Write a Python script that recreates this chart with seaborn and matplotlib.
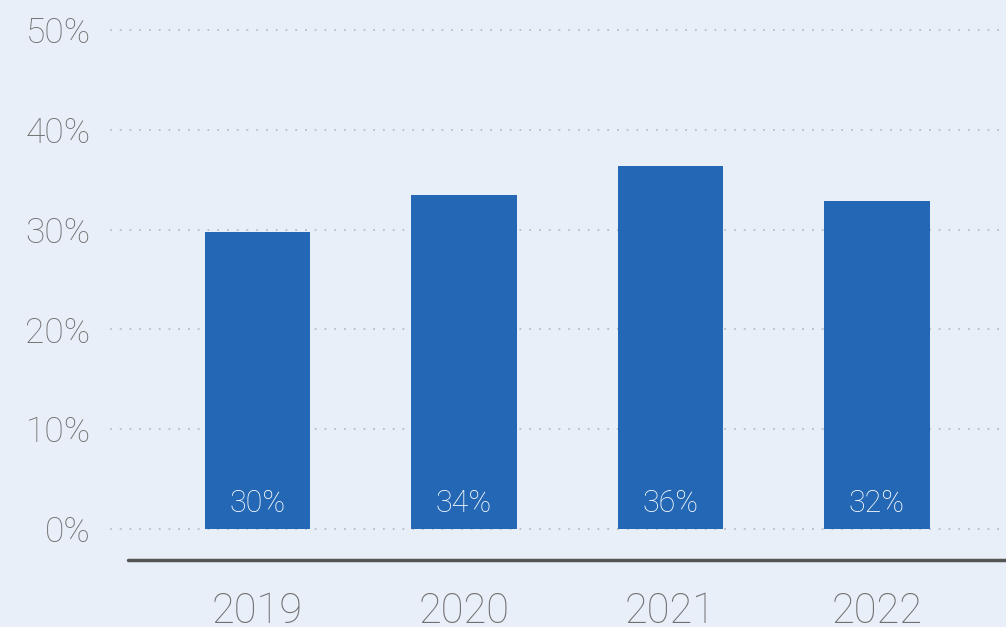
import matplotlib
matplotlib.use("Agg")
import matplotlib.pyplot as plt
import pandas as pd
import seaborn as sns

# values
years = ['2019', '2020', '2021', '2022']
share = [29.8, 33.5, 36.4, 32.9]
bar_labels = ['30%', '34%', '36%', '32%']
y_ticks = [0, 10, 20, 30, 40, 50]

bg = '#E9EFF8'
blue = '#2367B5'

sns.set_theme(style='white', rc={'axes.facecolor': bg, 'figure.facecolor': bg})
plt.rcParams['font.family'] = ['Roboto', 'DejaVu Sans']

df = pd.DataFrame({'year': years, 'share': share})

fig = plt.figure(figsize=(10.06, 6.27), dpi=100)
ax = fig.add_axes([110 / 1006, 67 / 627, 1 - 110 / 1006, 1 - 67 / 627 - 20 / 627])

sns.barplot(data=df, x='year', y='share', color=blue, saturation=1, width=0.51,
            linewidth=0, ax=ax)

ax.set_ylim(-3.1, 51.0)
ax.set_xlim(-0.714, 3.625)
ax.set_yticks(y_ticks)
ax.set_yticklabels([f'{t}%' for t in y_ticks])
ax.set_xlabel('')
ax.set_ylabel('')

# dotted grid lines
for t in y_ticks:
    ax.axhline(t, color='#B9BEC6', linestyle=(0, (1, 4.4)), linewidth=1.3, zorder=0)

# dark base line below zero
ax.axhline(-3.1, xmin=(128 - 110) / (1006 - 110), xmax=1, color='#555555', linewidth=2.5, clip_on=False)

for i, lab in enumerate(bar_labels):
    ax.text(i, 2.6, lab, ha='center', va='center', color='white', fontsize=22, fontweight='light')

ax.tick_params(axis='y', length=0, pad=14, labelsize=25.5, labelcolor='#707070')
ax.tick_params(axis='x', length=0, pad=22, labelsize=30, labelcolor='#707070')
for lbl in ax.get_yticklabels() + ax.get_xticklabels():
    lbl.set_fontweight('light')

for s in ax.spines.values():
    s.set_visible(False)

fig.savefig('out.png', dpi=100, facecolor=bg)
